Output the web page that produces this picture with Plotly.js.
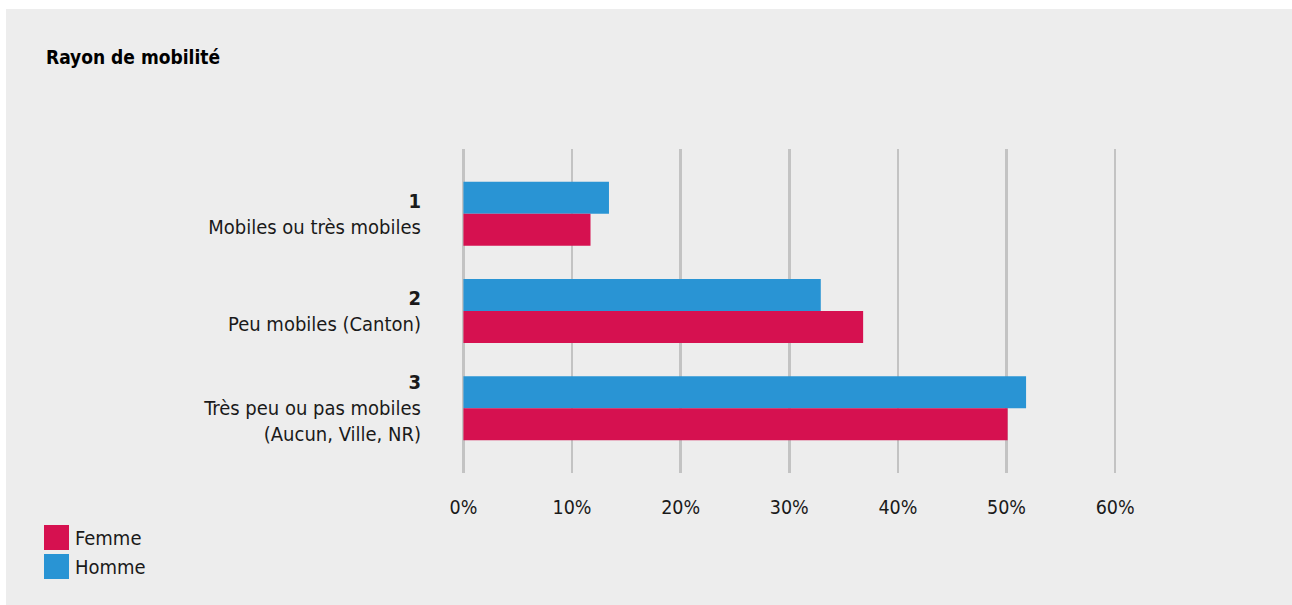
<!DOCTYPE html>
<html>
<head>
<meta charset="utf-8">
<script src="https://cdn.plot.ly/plotly-3.0.1.min.js"></script>
<style>
  html, body { margin: 0; padding: 0; background: #ffffff; }
  #wrap { position: absolute; left: 6px; top: 9px; width: 1286px; height: 596px; }
</style>
</head>
<body>
<div id="wrap"></div>
<script>
// ---- data ----
const catNumbers = ["1", "2", "3"];
const catNames = ["Mobiles ou très mobiles", "Peu mobiles (Canton)", "Très peu ou pas mobiles<br>(Aucun, Ville, NR)"];
const hommeValues = [13.4, 32.9, 51.8];
const femmeValues = [11.7, 36.8, 50.1];
const xTickValues = [0, 10, 20, 30, 40, 50, 60];
const xTickLabels = ["0%", "10%", "20%", "30%", "40%", "50%", "60%"];
const seriesNames = ["Femme", "Homme"];
const titleText = "Rayon de mobilité";

// ---- styles ----
const RED = "#d61150";
const BLUE = "#2994d4";
const BG = "#ededed";
const GRID = "#c3c3c3";
const FONT = "DejaVu Sans Condensed, sans-serif";

const W_TOT = 1286, H_TOT = 596;
const M = { l: 452, r: 166, t: 140, b: 132 };
const PW = W_TOT - M.l - M.r, PH = H_TOT - M.t - M.b;
const px = x => (x - M.l) / PW;
const py = y => (H_TOT - M.b - y) / PH;

const tickText = catNames.map((n, i) => "<b>" + catNumbers[i] + "</b><br>" + n);

const traces = [
  { type: "bar", orientation: "h", name: seriesNames[1], x: hommeValues, y: catNames,
    marker: { color: BLUE }, showlegend: false },
  { type: "bar", orientation: "h", name: seriesNames[0], x: femmeValues, y: catNames,
    marker: { color: RED }, showlegend: false }
];

// manual legend (big squares)
const legendColors = [RED, BLUE];
const shapes = [], annotations = [];
seriesNames.forEach((name, i) => {
  const top = 516 + i * 29;
  shapes.push({ type: "rect", xref: "paper", yref: "paper",
    x0: px(38), x1: px(63), y0: py(top + 25), y1: py(top),
    fillcolor: legendColors[i], line: { width: 0 }, layer: "above" });
  annotations.push({ xref: "paper", yref: "paper", x: px(67), y: py(top + 13),
    xanchor: "left", yanchor: "middle", showarrow: false, text: name,
    font: { family: FONT, size: 20, color: "#1a1a1a" } });
});

const layout = {
  width: W_TOT, height: H_TOT,
  paper_bgcolor: BG, plot_bgcolor: BG,
  margin: M,
  barmode: "group", bargap: 0.343, bargroupgap: 0,
  title: { text: "<b>" + titleText + "</b>", xref: "container", yref: "container",
    x: 40 / W_TOT, xanchor: "left", y: 1 - 48 / H_TOT, yanchor: "middle",
    font: { family: FONT, size: 19, color: "#000000" } },
  xaxis: { range: [-0.5, 61], tickmode: "array", tickvals: xTickValues, ticktext: xTickLabels,
    showgrid: true, gridcolor: GRID, gridwidth: 2.5, zeroline: false, showline: false,
    ticks: "", ticklabelstandoff: 20,
    tickfont: { family: FONT, size: 19.5, color: "#1a1a1a" }, fixedrange: true },
  yaxis: { type: "category", range: [2.665, -0.665], autorange: false,
    tickmode: "array", tickvals: catNames, ticktext: tickText,
    showgrid: false, zeroline: false, showline: false,
    ticks: "", ticklabelstandoff: 36,
    tickfont: { family: FONT, size: 20, color: "#1a1a1a" }, fixedrange: true },
  shapes: shapes, annotations: annotations,
  showlegend: false
};

Plotly.newPlot("wrap", traces, layout, { displayModeBar: false, staticPlot: true });
</script>
</body>
</html>
